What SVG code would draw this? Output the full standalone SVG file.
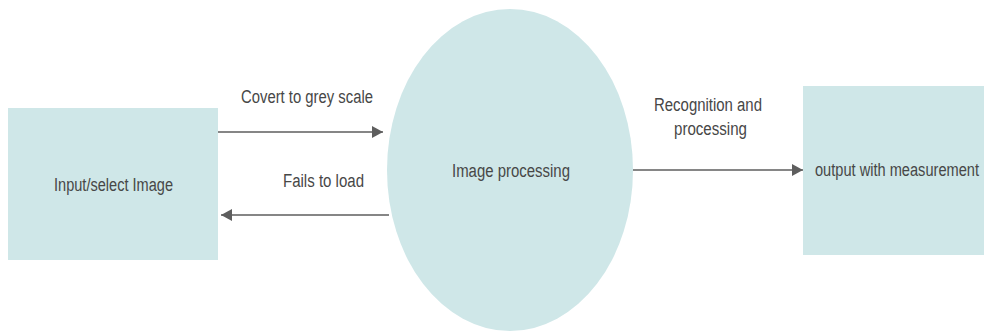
<svg xmlns="http://www.w3.org/2000/svg" width="984" height="332" viewBox="0 0 984 332">
  <style>
    .shape { fill: #cfe7e8; stroke: none; }
    .label { font-family: "Liberation Sans", Arial, sans-serif; font-size: 18px; fill: #474747; text-anchor: middle; }
    .edge { stroke: #5e5e5e; stroke-width: 1.6; fill: none; marker-end: url(#arrow); }
  </style>
  <defs>
    <marker id="arrow" viewBox="0 0 10 10" refX="10" refY="5" markerWidth="11" markerHeight="12" markerUnits="userSpaceOnUse" orient="auto" preserveAspectRatio="none">
      <path d="M0,0 L10,5 L0,10 z" fill="#5e5e5e"/>
    </marker>
  </defs>
  <rect width="984" height="332" fill="#ffffff"/>

  <g id="node-input">
    <rect class="shape" x="8" y="108" width="210" height="152"/>
    <text class="label" x="113.5" y="190.5" textLength="119" lengthAdjust="spacingAndGlyphs">Input/select Image</text>
  </g>

  <g id="node-processing">
    <ellipse class="shape" cx="510" cy="170" rx="123" ry="161"/>
    <text class="label" x="511" y="176.5" textLength="118" lengthAdjust="spacingAndGlyphs">Image processing</text>
  </g>

  <g id="node-output">
    <rect class="shape" x="803" y="86" width="181" height="169"/>
    <text class="label" x="897" y="176" textLength="164" lengthAdjust="spacingAndGlyphs">output with measurement</text>
  </g>

  <g id="connectors">
    <line class="edge" x1="218" y1="132" x2="383" y2="132"/>
    <line class="edge" x1="389" y1="215" x2="221" y2="215"/>
    <line class="edge" x1="633" y1="170" x2="803" y2="170"/>
    <text class="label" x="307" y="102.5" textLength="132" lengthAdjust="spacingAndGlyphs">Covert to grey scale</text>
    <text class="label" x="323.5" y="187" textLength="81" lengthAdjust="spacingAndGlyphs">Fails to load</text>
    <text class="label" x="708" y="111" textLength="108" lengthAdjust="spacingAndGlyphs">Recognition and</text>
    <text class="label" x="710.5" y="134.5" textLength="73" lengthAdjust="spacingAndGlyphs">processing</text>
  </g>
</svg>
